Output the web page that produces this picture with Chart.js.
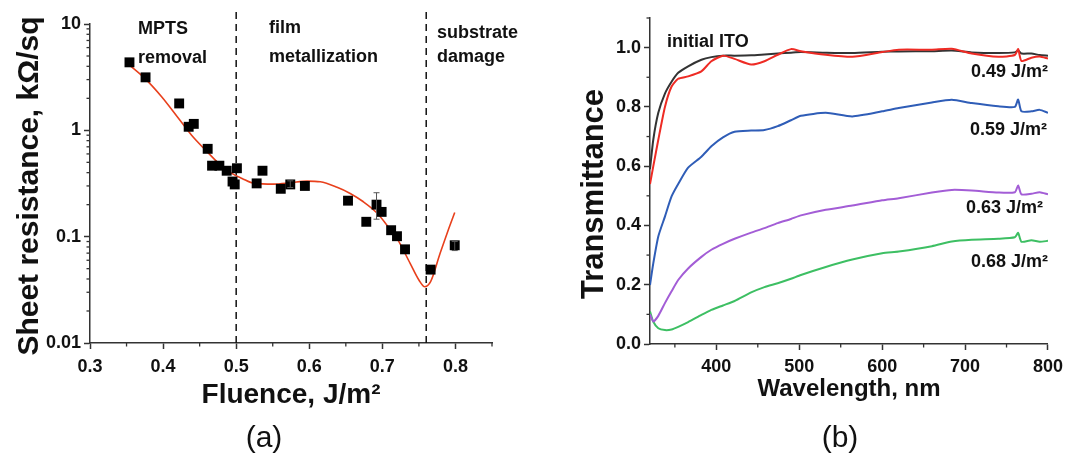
<!DOCTYPE html>
<html>
<head>
<meta charset="utf-8">
<script src="https://cdn.jsdelivr.net/npm/chart.js@4.4.0/dist/chart.umd.min.js"></script>
<style>
body { margin: 0; background: #fff; width: 1069px; height: 457px; overflow: hidden; position: relative; font-family: "Liberation Sans", Arial, sans-serif; }
canvas { position: absolute; top: 0; }
#chartA { left: 0; }
#chartB { left: 540px; }
.tag { position: absolute; top: 419px; width: 60px; text-align: center; font-size: 30px; color: #111; line-height: 36px; }
</style>
</head>
<body>
<canvas id="chartA" width="540" height="457"></canvas>
<canvas id="chartB" width="529" height="457"></canvas>
<div class="tag" style="left:234px">(a)</div>
<div class="tag" style="left:810px">(b)</div>
<script>
// ---- panel (a): sheet resistance vs laser fluence ----
var fluence = [0.354, 0.376, 0.422, 0.435, 0.442, 0.461, 0.467, 0.477, 0.487, 0.495, 0.498, 0.501, 0.528,
               0.536, 0.561, 0.574, 0.594, 0.653, 0.678, 0.692, 0.699, 0.712, 0.720, 0.731, 0.766, 0.799];
var resistance = [4.36, 3.15, 1.79, 1.08, 1.15, 0.67, 0.465, 0.465, 0.417, 0.33, 0.31, 0.44, 0.317,
                  0.417, 0.282, 0.31, 0.30, 0.218, 0.138, 0.20, 0.171, 0.115, 0.101, 0.076, 0.049, 0.083];
var errX = [0.574, 0.692, 0.799];
var errLow = [0.29, 0.146, 0.074];
var errHigh = [0.335, 0.259, 0.09];
var fitX = [0.354, 0.375, 0.398, 0.421, 0.439, 0.458, 0.476, 0.494, 0.508, 0.525, 0.551, 0.574, 0.597, 0.615,
            0.638, 0.656, 0.674, 0.693, 0.706, 0.720, 0.738, 0.750, 0.758, 0.766, 0.779, 0.791, 0.799];
var fitY = [4.11, 3.08, 2.07, 1.30, 0.90, 0.653, 0.49, 0.394, 0.353, 0.317, 0.312, 0.321, 0.333, 0.328,
            0.291, 0.255, 0.213, 0.166, 0.129, 0.0964, 0.0561, 0.0391, 0.0338, 0.0377, 0.0697, 0.120, 0.169];
var boundaryX = [0.5, 0.76];
var boundaryY = [0.01, 13];
var fluenceTicks = [0.3, 0.4, 0.5, 0.6, 0.7, 0.8];
var fluenceMinor = [0.35, 0.45, 0.55, 0.65, 0.75, 0.85];
var resTicks = [0.01, 0.1, 1, 10];
var resMinor = [0.02, 0.03, 0.04, 0.05, 0.06, 0.07, 0.08, 0.09, 0.2, 0.3, 0.4, 0.5, 0.6, 0.7, 0.8, 0.9,
                2, 3, 4, 5, 6, 7, 8, 9];

// ---- panel (b): transmittance spectra ----
var wavelength = [320, 324, 330, 338, 346, 354, 366, 382, 394, 408, 422, 442, 458, 474, 490, 502, 532, 564,
                  600, 620, 660, 684, 708, 740, 760, 764, 768, 780, 790, 800];
var tInitial = [0.59, 0.69, 0.78, 0.845, 0.885, 0.915, 0.937, 0.959, 0.968, 0.973, 0.973, 0.974, 0.977, 0.98,
                0.983, 0.985, 0.983, 0.982, 0.986, 0.987, 0.988, 0.99, 0.984, 0.982, 0.984, 0.99, 0.98, 0.98, 0.975, 0.973];
var t049 = [0.54, 0.60, 0.689, 0.80, 0.869, 0.895, 0.903, 0.92, 0.954, 0.973, 0.962, 0.943, 0.954, 0.976,
            0.995, 0.988, 0.976, 0.969, 0.985, 0.993, 0.993, 0.996, 0.98, 0.969, 0.975, 0.995, 0.955, 0.966, 0.97, 0.963];
var t059 = [0.199, 0.273, 0.363, 0.43, 0.498, 0.54, 0.595, 0.632, 0.667, 0.697, 0.716, 0.72, 0.722, 0.735,
            0.755, 0.77, 0.78, 0.768, 0.785, 0.796, 0.815, 0.824, 0.813, 0.802, 0.80, 0.825, 0.785, 0.785, 0.79, 0.78];
var t063 = [0.10, 0.076, 0.095, 0.138, 0.178, 0.216, 0.255, 0.294, 0.318, 0.338, 0.355, 0.376, 0.391, 0.408,
            0.422, 0.434, 0.453, 0.467, 0.485, 0.492, 0.511, 0.52, 0.518, 0.511, 0.512, 0.535, 0.505, 0.507, 0.512, 0.505];
var t068 = [0.11, 0.075, 0.053, 0.047, 0.049, 0.058, 0.074, 0.098, 0.115, 0.13, 0.145, 0.174, 0.192, 0.205,
            0.22, 0.233, 0.26, 0.285, 0.306, 0.312, 0.33, 0.346, 0.352, 0.355, 0.36, 0.375, 0.345, 0.35, 0.345, 0.348];
var wlTicks = [400, 500, 600, 700, 800];
var wlMinor = [350, 450, 550, 650, 750];
var tTicks = [0, 0.2, 0.4, 0.6, 0.8, 1.0];
var tMinor = [0.1, 0.3, 0.5, 0.7, 0.9, 1.1];

Chart.defaults.font.family = '"Liberation Sans", Arial, sans-serif';
Chart.defaults.color = '#111';

function pairs(xs, ys) {
    return xs.map(function(x, i) { return { x: x, y: ys[i] }; });
}
function fixedTicks(list) {
    return function(scale) { scale.ticks = list.map(function(v) { return { value: v }; }); };
}

var tickFont = { size: 18, weight: 'bold' };
var axisGrid = { drawOnChartArea: false, drawTicks: true, tickLength: 6, tickColor: '#333', tickWidth: 1.5 };
var axisBorder = { color: '#333', width: 1.5 };

// short minor tick marks, placed through the scales
var minorTicks = {
    id: 'minorTicks',
    afterDraw: function(chart, args, opts) {
        var ctx = chart.ctx, xs = chart.scales.x, ys = chart.scales.y;
        ctx.save();
        ctx.strokeStyle = '#333';
        ctx.lineWidth = 1.3;
        (opts.x || []).forEach(function(v) {
            var px = xs.getPixelForValue(v);
            ctx.beginPath(); ctx.moveTo(px, ys.bottom); ctx.lineTo(px, ys.bottom + 3.5); ctx.stroke();
        });
        (opts.y || []).forEach(function(v) {
            var py = ys.getPixelForValue(v);
            ctx.beginPath(); ctx.moveTo(xs.left, py); ctx.lineTo(xs.left - 3.5, py); ctx.stroke();
        });
        ctx.restore();
    }
};

// free text: region names, curve labels, vertical axis titles
var notes = {
    id: 'notes',
    afterDraw: function(chart, args, opts) {
        var ctx = chart.ctx;
        ctx.save();
        ctx.fillStyle = '#111';
        ctx.textBaseline = 'middle';
        (opts.items || []).forEach(function(t) {
            ctx.save();
            ctx.font = 'bold ' + (t.size || 18) + 'px "Liberation Sans", Arial, sans-serif';
            ctx.textAlign = t.align || 'left';
            ctx.translate(t.x, t.y);
            if (t.vertical) ctx.rotate(-Math.PI / 2);
            ctx.fillText(t.text, 0, 0);
            ctx.restore();
        });
        ctx.restore();
    }
};

var errorBars = {
    id: 'errorBars',
    afterDatasetsDraw: function(chart) {
        var ctx = chart.ctx, xs = chart.scales.x, ys = chart.scales.y;
        ctx.save();
        ctx.strokeStyle = '#555';
        ctx.lineWidth = 1;
        errX.forEach(function(x, i) {
            var px = xs.getPixelForValue(x);
            var p1 = ys.getPixelForValue(errLow[i]), p2 = ys.getPixelForValue(errHigh[i]);
            ctx.beginPath();
            ctx.moveTo(px, p1); ctx.lineTo(px, p2);
            ctx.moveTo(px - 3, p1); ctx.lineTo(px + 3, p1);
            ctx.moveTo(px - 3, p2); ctx.lineTo(px + 3, p2);
            ctx.stroke();
        });
        ctx.restore();
    }
};

new Chart(document.getElementById('chartA').getContext('2d'), {
    type: 'scatter',
    data: {
        datasets: [
            {
                label: 'measured',
                data: pairs(fluence, resistance),
                pointStyle: 'rect',
                pointRadius: 7,
                backgroundColor: '#000',
                borderColor: '#000',
                borderWidth: 0
            },
            {
                label: 'fit',
                data: pairs(fitX, fitY),
                showLine: true,
                pointRadius: 0,
                borderColor: '#e8401c',
                borderWidth: 1.6,
                cubicInterpolationMode: 'monotone'
            },
            {
                label: 'b1',
                data: pairs([boundaryX[0], boundaryX[0]], boundaryY),
                showLine: true,
                pointRadius: 0,
                borderColor: '#111',
                borderWidth: 1.5,
                borderDash: [7, 5],
                clip: false
            },
            {
                label: 'b2',
                data: pairs([boundaryX[1], boundaryX[1]], boundaryY),
                showLine: true,
                pointRadius: 0,
                borderColor: '#111',
                borderWidth: 1.5,
                borderDash: [7, 5],
                clip: false
            }
        ]
    },
    options: {
        responsive: false,
        animation: false,
        devicePixelRatio: 1,
        layout: { padding: { left: 0, right: 48, top: 24, bottom: 44 } },
        plugins: {
            legend: { display: false },
            tooltip: { enabled: false },
            minorTicks: { x: fluenceMinor, y: resMinor },
            notes: {
                items: [
                    { text: 'MPTS', x: 138, y: 29 },
                    { text: 'removal', x: 138, y: 58 },
                    { text: 'film', x: 269, y: 28 },
                    { text: 'metallization', x: 269, y: 57 },
                    { text: 'substrate', x: 437, y: 33 },
                    { text: 'damage', x: 437, y: 57 },
                    { text: 'Sheet resistance, kΩ/sq', x: 30, y: 186, size: 30, align: 'center', vertical: true }
                ]
            }
        },
        scales: {
            x: {
                type: 'linear', min: 0.3, max: 0.85,
                afterBuildTicks: fixedTicks(fluenceTicks),
                afterFit: function(s) { s.height = 70; },
                grid: axisGrid, border: axisBorder,
                ticks: { font: tickFont, color: '#111', padding: 7, maxRotation: 0,
                         callback: function(v) { return v.toFixed(1); } },
                title: { display: true, text: 'Fluence, J/m²', color: '#111',
                         font: { size: 28, weight: 'bold' }, padding: { top: 0, bottom: 1 } }
            },
            y: {
                type: 'logarithmic', min: 0.01, max: 10,
                afterBuildTicks: fixedTicks(resTicks),
                afterFit: function(s) { s.width = 90; },
                grid: axisGrid, border: axisBorder,
                ticks: { font: tickFont, color: '#111', padding: 3,
                         callback: function(v) { return String(v); } }
            }
        }
    },
    plugins: [minorTicks, notes, errorBars]
});

new Chart(document.getElementById('chartB').getContext('2d'), {
    type: 'line',
    data: {
        datasets: [
            { label: '0.49 J/m²', data: pairs(wavelength, t049), borderColor: '#ee2b24' },
            { label: 'initial ITO', data: pairs(wavelength, tInitial), borderColor: '#333333' },
            { label: '0.59 J/m²', data: pairs(wavelength, t059), borderColor: '#2f5db7' },
            { label: '0.63 J/m²', data: pairs(wavelength, t063), borderColor: '#a35dd6' },
            { label: '0.68 J/m²', data: pairs(wavelength, t068), borderColor: '#3dbf63' }
        ]
    },
    options: {
        responsive: false,
        animation: false,
        devicePixelRatio: 1,
        layout: { padding: { left: 0, right: 19, top: 18, bottom: 43 } },
        elements: {
            line: { borderWidth: 2, tension: 0.2 },
            point: { radius: 0 }
        },
        plugins: {
            legend: { display: false },
            tooltip: { enabled: false },
            minorTicks: { x: wlMinor, y: tMinor },
            notes: {
                items: [
                    { text: 'initial ITO', x: 127, y: 42 },
                    { text: '0.49 J/m²', x: 508, y: 72, align: 'right' },
                    { text: '0.59 J/m²', x: 507, y: 130, align: 'right' },
                    { text: '0.63 J/m²', x: 503, y: 208, align: 'right' },
                    { text: '0.68 J/m²', x: 508, y: 262, align: 'right' },
                    { text: 'Transmittance', x: 54, y: 194, size: 31, align: 'center', vertical: true }
                ]
            }
        },
        scales: {
            x: {
                type: 'linear', min: 320, max: 800,
                afterBuildTicks: fixedTicks(wlTicks),
                afterFit: function(s) { s.height = 70; },
                grid: axisGrid, border: axisBorder,
                ticks: { font: tickFont, color: '#111', padding: 6, maxRotation: 0 },
                title: { display: true, text: 'Wavelength, nm', color: '#111',
                         font: { size: 24, weight: 'bold' }, padding: { top: 0, bottom: 10 } }
            },
            y: {
                type: 'linear', min: 0, max: 1.1,
                afterBuildTicks: fixedTicks(tTicks),
                afterFit: function(s) { s.width = 110; },
                grid: axisGrid, border: axisBorder,
                ticks: { font: tickFont, color: '#111', padding: 3,
                         callback: function(v) { return v.toFixed(1); } }
            }
        }
    },
    plugins: [minorTicks, notes]
});
</script>
</body>
</html>
